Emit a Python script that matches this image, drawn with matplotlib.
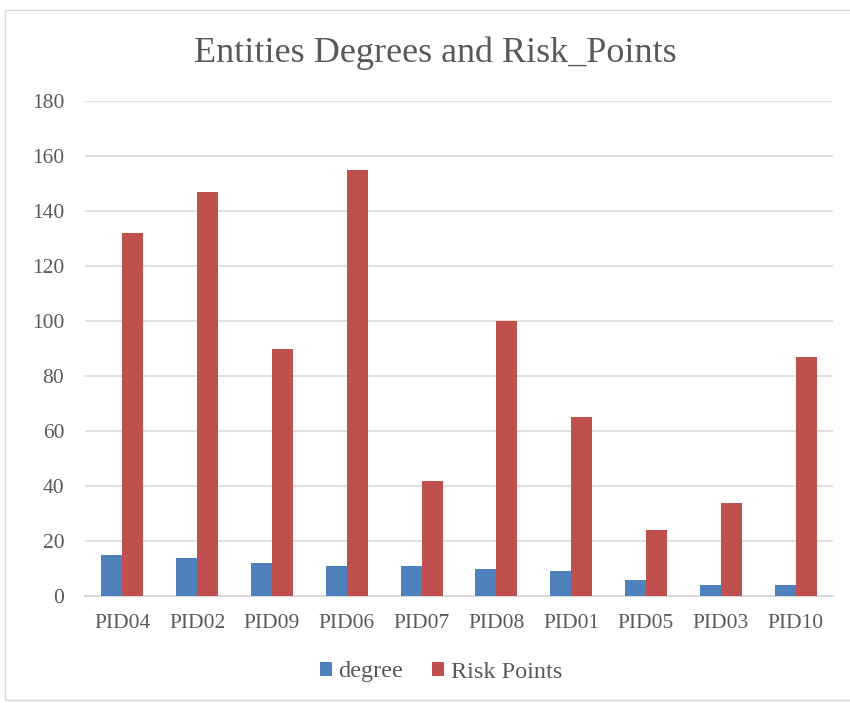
import matplotlib
matplotlib.use("Agg")
import matplotlib.pyplot as plt
from matplotlib.patches import Rectangle
import numpy as np

categories = ["PID04", "PID02", "PID09", "PID06", "PID07", "PID08", "PID01", "PID05", "PID03", "PID10"]
degree = [15, 14, 12, 11, 11, 10, 9, 6, 4, 4]
risk_points = [132, 147, 90, 155, 42, 100, 65, 24, 34, 87]
yticks = [0, 20, 40, 60, 80, 100, 120, 140, 160, 180]

plt.rcParams['font.family'] = ['Liberation Serif', 'DejaVu Serif']
txt = '#595959'

fig = plt.figure(figsize=(8.5, 7.03), dpi=100)
W, H = 850, 703
ax = fig.add_axes([85 / W, 1 - 596 / H, (833 - 85) / W, (596 - 101) / H])

x = np.arange(len(categories))
bw = 0.28
ax.bar(x - bw / 2, degree, bw, color='#4f81bd', label='degree', zorder=3)
ax.bar(x + bw / 2, risk_points, bw, color='#c0504d', label='Risk Points', zorder=3)

ax.set_xlim(-0.5, len(categories) - 0.5)
ax.set_ylim(0, 180)
ax.set_yticks(yticks)
ax.set_xticks(x)
ax.set_xticklabels(categories)
ax.tick_params(axis='both', length=0, labelsize=15.5, colors=txt)
ax.tick_params(axis='y', pad=15)
ax.tick_params(axis='x', pad=13)
ax.grid(axis='y', color='#d9d9d9', linewidth=1.2, zorder=0)
for s in ['top', 'right', 'left']:
    ax.spines[s].set_visible(False)
ax.spines['bottom'].set_color('#d9d9d9')
ax.spines['bottom'].set_linewidth(1.5)

fig.text(435 / W, 1 - 53 / H, 'Entities Degrees and Risk_Points', ha='center', va='center',
         fontsize=26, color=txt)

leg = fig.legend(loc='center', bbox_to_anchor=(441 / W, 1 - 672 / H), ncol=2, frameon=False,
                 fontsize=17.5, handlelength=0.5, handleheight=0.55, handletextpad=0.25,
                 columnspacing=1.2)
for t in leg.get_texts():
    t.set_color(txt)

fig.patches.append(Rectangle((5 / W, 1 - 700 / H), (860 - 5) / W, (700 - 10) / H,
                             transform=fig.transFigure, fill=False, edgecolor='#d9d9d9',
                             linewidth=1))

fig.savefig('out.png', dpi=100)
